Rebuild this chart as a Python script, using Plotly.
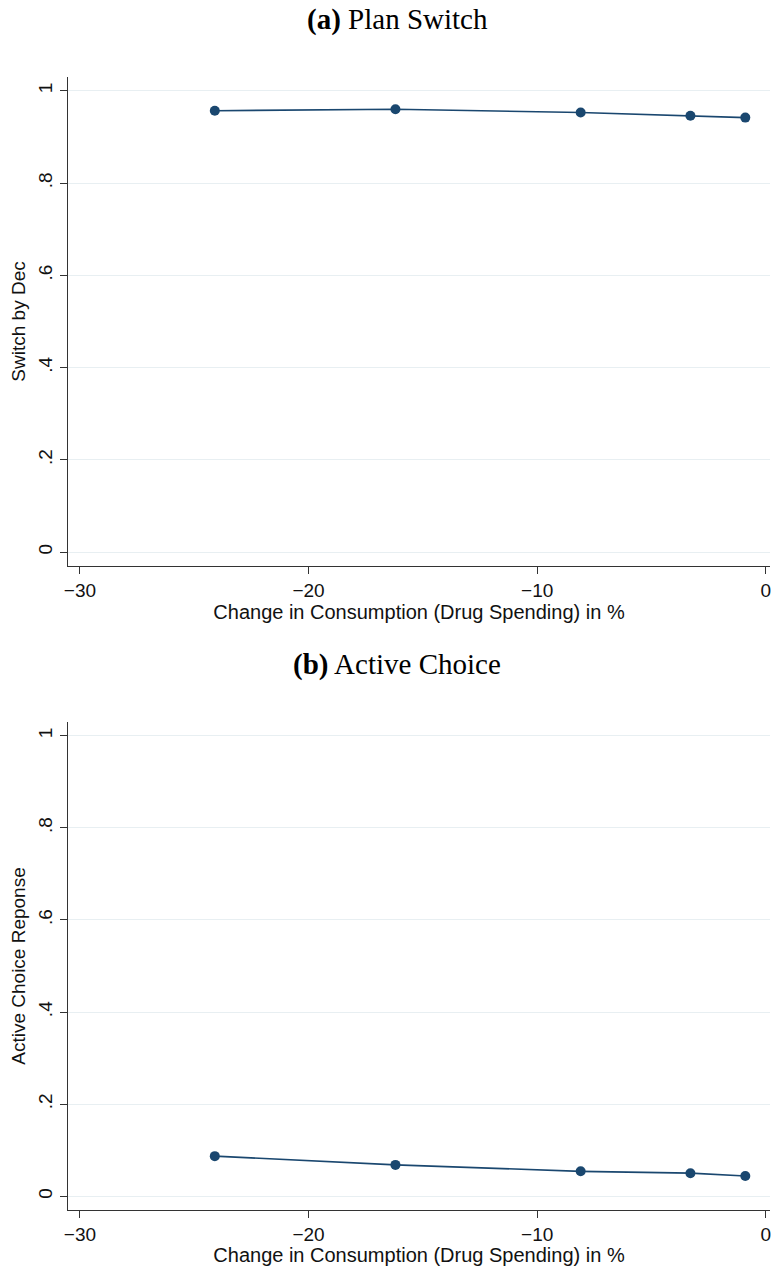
import plotly.graph_objects as go

x_change = [-24.1, -16.2, -8.1, -3.3, -0.9]
switch_by_dec = [0.957, 0.960, 0.953, 0.946, 0.942]
active_choice = [0.087, 0.068, 0.054, 0.050, 0.044]

y_ticks = [0, 0.2, 0.4, 0.6, 0.8, 1]
y_ticklabels = ["0", ".2", ".4", ".6", ".8", "1"]
x_ticks = [-30, -20, -10, 0]

panel_titles = ["<b>(a)</b> Plan Switch", "<b>(b)</b> Active Choice"]
y_titles = ["Switch by Dec", "Active Choice Reponse"]
x_title = "Change in Consumption (Drug Spending) in %"

H = 1266
W = 772
color = "#1a476f"

fig = go.Figure()
series = [switch_by_dec, active_choice]
domains = [[1 - 566 / H, 1 - 77 / H], [1 - 1210 / H, 1 - 722 / H]]

for i, ys in enumerate(series):
    xa = "x" if i == 0 else "x2"
    ya = "y" if i == 0 else "y2"
    fig.add_trace(go.Scatter(
        x=x_change, y=ys, mode="lines+markers", xaxis=xa, yaxis=ya,
        line=dict(color=color, width=1.6),
        marker=dict(color=color, size=10),
        showlegend=False,
    ))

axis_common = dict(
    showline=True, linecolor="#333333", linewidth=1.2,
    ticks="outside", ticklen=7, tickcolor="#333333", tickwidth=1.2,
    tickfont=dict(family="Liberation Sans, Arial", size=19, color="#111111"),
    zeroline=False,
)

layout = dict(
    width=W, height=H, paper_bgcolor="white", plot_bgcolor="white",
    margin=dict(l=68, r=2, t=0, b=0),
    font=dict(family="Liberation Sans, Arial", color="#111111"),
)

for i in range(2):
    xs = "" if i == 0 else "2"
    layout["xaxis" + xs] = dict(
        axis_common, domain=[0, 1], anchor="y" + xs,
        range=[-30.52, 0.18], tickvals=x_ticks, showgrid=False,
        ticklabelstandoff=0,
        title=dict(text=x_title, font=dict(size=20, family="Liberation Sans, Arial"), standoff=0),
    )
    layout["yaxis" + xs] = dict(
        axis_common, domain=domains[i], anchor="x" + xs,
        range=[-0.03, 1.03], tickvals=y_ticks, ticktext=y_ticklabels,
        tickangle=-90, showgrid=True, gridcolor="#e8eff2", gridwidth=1,
        title=dict(text=y_titles[i], font=dict(size=19, family="Liberation Sans, Arial"), standoff=4),
    )

fig.update_layout(**layout)

title_y = [1 - 20 / H, 1 - 664 / H]
for i in range(2):
    fig.add_annotation(
        text=panel_titles[i], xref="paper", yref="paper",
        x=(397 - 68) / (W - 70), y=title_y[i], xanchor="center", yanchor="middle",
        showarrow=False, font=dict(family="Liberation Serif, Times New Roman", size=29, color="black"),
    )

fig.write_html("out.html")
